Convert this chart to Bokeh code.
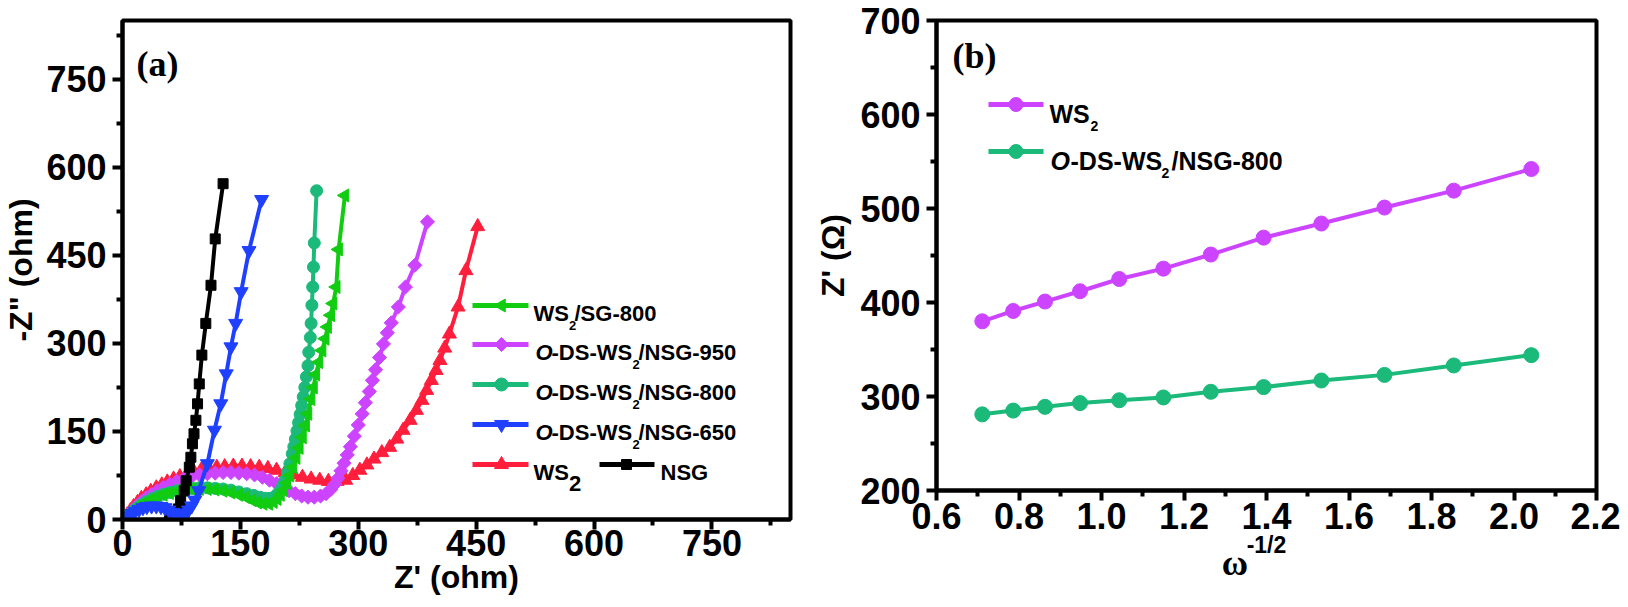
import numpy as np
from bokeh.plotting import figure
from bokeh.layouts import row
from bokeh.models import Range1d, FixedTicker, Label, NumeralTickFormatter, LinearAxis
from bokeh.embed import file_html
from bokeh.resources import INLINE

# ---------------- data : panel (a) Nyquist plots ----------------
nsg_x = [60, 64, 68, 71, 74, 78.6, 81, 85, 87, 89, 91, 93.4, 95.5, 97.7, 101, 106, 112.6, 118, 128]
nsg_y = [2, 4, 9, 18, 32, 49, 66, 89, 106, 129, 146, 169, 197, 231, 280, 334, 399, 478, 572]

n650_x = [4, 8, 12, 16, 21, 26, 31, 37, 43, 49, 54, 59, 64, 68, 72, 76, 80, 84, 88, 92, 97, 108, 117, 125, 132, 138, 144, 151, 161, 177]
n650_y = [2, 6, 10, 14, 17, 20, 22, 23, 23, 22, 20, 16, 12, 8, 7, 8, 11, 16, 23, 33, 49, 95, 152, 197, 248, 294, 334, 388, 458, 545]

n800_x = [4, 8, 13, 18, 24, 30, 37, 44, 52, 60, 69, 78, 88, 98, 108, 118, 128, 138, 148, 158, 167, 175, 182, 188, 193, 197, 201, 204, 207, 210,
          213, 216, 218, 220, 222, 224, 226, 228, 230, 232, 234, 236, 237, 239, 240, 241, 242, 243, 244, 247]
n800_y = [3, 8, 14, 19, 25, 30, 35, 39, 43, 46, 49, 51, 53, 54, 54, 53, 52, 50, 47, 44, 41, 38, 36, 36, 38, 43, 50, 58, 67, 80,
          95, 112, 124, 137, 151, 165, 179, 194, 209, 225, 243, 262, 285, 310, 334, 365, 396, 430, 471, 560]

n950_x = [4, 8, 13, 18, 24, 30, 37, 44, 52, 60, 69, 78, 88, 98, 108, 118, 128, 138, 148, 158, 168, 178, 187, 196, 204, 212, 220, 228, 236, 244,
          252, 259, 265, 270, 274, 278, 282, 286, 290, 295, 300, 305, 309, 314, 318, 322, 327, 332, 337, 342, 351, 360, 372, 388]
n950_y = [3, 9, 16, 23, 30, 37, 43, 49, 55, 60, 65, 69, 73, 76, 78, 79, 80, 80, 79, 78, 76, 72, 67, 61, 55, 49, 44, 40, 38, 38,
          40, 44, 51, 60, 70, 83, 96, 110, 124, 142, 161, 180, 199, 218, 237, 255, 276, 299, 318, 335, 362, 396, 433, 507]

sg800_x = [4, 8, 13, 18, 24, 30, 37, 44, 52, 60, 69, 78, 88, 98, 108, 118, 128, 138, 148, 157, 165, 172, 179, 186, 192, 197, 201, 205, 209,
           213, 217, 221, 225, 229, 233, 236, 240, 243, 246, 250, 254, 258, 261, 265, 268, 272, 275, 283]
sg800_y = [4, 9, 15, 20, 25, 30, 34, 38, 42, 45, 48, 50, 52, 52, 52, 51, 49, 46, 42, 38, 33, 29, 27, 27, 30, 35, 42, 50, 62,
           75, 89, 105, 122, 140, 160, 180, 205, 225, 247, 268, 288, 308, 328, 348, 368, 396, 460, 552]

ws2_x = [3, 6, 10, 14, 19, 24, 30, 36, 43, 50, 57, 65, 73, 82, 91, 100, 110, 120, 130, 141, 152, 163, 174, 185, 196, 207, 218, 229, 240, 251,
         262, 273, 284, 293, 302, 311, 320, 330, 340, 349, 357, 366, 374, 381, 387, 393, 399, 404, 410, 416, 427, 437, 452]
ws2_y = [2, 8, 15, 22, 29, 36, 42, 48, 54, 59, 64, 69, 73, 77, 81, 84, 87, 89, 90, 91, 91, 90, 89, 87, 84, 80, 76, 72, 69, 67,
         65, 65, 67, 75, 84, 93, 103, 114, 123, 137, 152, 169, 186, 203, 220, 237, 254, 271, 292, 316, 362, 424, 499]

a_ticks = [0, 150, 300, 450, 600, 750]
a_minor = [75, 225, 375, 525, 675, 825]

# ---------------- data : panel (b) ----------------
b_x = [0.711, 0.786, 0.863, 0.948, 1.043, 1.150, 1.265, 1.393, 1.533, 1.686, 1.854, 2.042]
b_ws2 = [380, 391, 401, 412, 425, 436, 451, 469, 484, 501, 519, 542]
b_ods800 = [281, 285, 289, 293, 296, 299, 305, 310, 317, 323, 333, 344]

b_xticks = [0.6, 0.8, 1.0, 1.2, 1.4, 1.6, 1.8, 2.0, 2.2]
b_xminor = [0.7, 0.9, 1.1, 1.3, 1.5, 1.7, 1.9, 2.1]
b_yticks = [200, 300, 400, 500, 600, 700]
b_yminor = [250, 350, 450, 550, 650]

# ---------------- styling ----------------
SANS = "Liberation Sans"
SERIF = "Liberation Serif"
RED = "#FF1E3C"
PINK = "#CC44FF"
TEAL = "#1BB97A"
GREEN = "#11CC11"
BLUE = "#2040FF"
BLACK = "#000000"
TICK_FS = "36px"

# frame geometry (page pixels) used only for placing decorations
A_L, A_T, A_W, A_H = 126, 17, 668, 499
B_L, B_T, B_W, B_H = 940, 28, 660, 470
AX0, AX1, AY0, AY1 = 0, 850, 0, 850
BX0, BX1, BY0, BY1 = 0.6, 2.2, 200, 700
A_RIGHT = 12
PAGE_H = 607
M = 8   # both figures cover the page margin vertically (negative top/bottom margins)


def ax_(px):
    return AX0 + (px - A_L) * (AX1 - AX0) / A_W


def ay_(py):
    return AY0 + (A_T + A_H - py) * (AY1 - AY0) / A_H


def bx_(px):
    return BX0 + (px - B_L) * (BX1 - BX0) / B_W


def by_(py):
    return BY0 + (B_T + B_H - py) * (BY1 - BY0) / B_H


def style_axes(p):
    p.grid.visible = False
    p.outline_line_color = "black"
    p.outline_line_width = 4
    p.outline_line_alpha = 1
    p.background_fill_color = "white"
    p.border_fill_color = "white"
    for ax in (p.xaxis[0], p.yaxis[0]):
        ax.axis_line_width = 4
        ax.axis_line_color = "black"
        ax.major_tick_line_width = 4
        ax.minor_tick_line_width = 4
        ax.major_tick_in = 0
        ax.major_tick_out = 10
        ax.minor_tick_in = 0
        ax.minor_tick_out = 6
        ax.major_label_text_font = SANS
        ax.major_label_text_font_style = "bold"
        ax.major_label_text_font_size = TICK_FS
        ax.major_label_text_color = "black"
        ax.axis_label_text_font = SANS
        ax.axis_label_text_font_style = "bold"
        ax.axis_label_text_font_size = "32px"
        ax.axis_label_text_color = "black"


def lab(p, x, y, text, font=SANS, size=22, style="bold"):
    p.add_layout(Label(x=x, y=y, text=text, text_font=font, text_font_size=f"{size}px",
                       text_font_style=style, text_align="left", text_baseline="alphabetic",
                       text_color="black"))


def series(p, x, y, color, marker, size, angle=0.0, lw=4):
    p.line(x, y, line_color=color, line_width=lw)
    p.scatter(x, y, marker=marker, size=size, angle=angle, fill_color=color, line_color=color)


# ---------------- panel (a) ----------------
pa = figure(frame_width=A_W, frame_height=A_H, x_range=Range1d(AX0, AX1), y_range=Range1d(AY0, AY1),
            min_border_left=A_L - M, min_border_right=A_RIGHT, min_border_top=A_T,
            min_border_bottom=PAGE_H - A_T - A_H, margin=(-M, 0, -M, 0),
            output_backend="svg", toolbar_location=None)
style_axes(pa)
pa.xaxis.ticker = FixedTicker(ticks=a_ticks, minor_ticks=a_minor)
pa.yaxis.ticker = FixedTicker(ticks=a_ticks, minor_ticks=a_minor)
pa.xaxis.axis_label = "Z' (ohm)"
pa.yaxis.axis_label = '-Z" (ohm)'
pa.xaxis.major_label_standoff = 0
pa.yaxis.major_label_standoff = 6
pa.xaxis.axis_label_standoff = 0
pa.yaxis.axis_label_standoff = 4

series(pa, ws2_x, ws2_y, RED, "triangle", 14)
series(pa, n950_x, n950_y, PINK, "square", 10, angle=np.pi / 4)
series(pa, n800_x, n800_y, TEAL, "circle", 12)
series(pa, sg800_x, sg800_y, GREEN, "triangle", 13, angle=np.pi / 2)
series(pa, nsg_x, nsg_y, BLACK, "square", 10)
series(pa, n650_x, n650_y, BLUE, "inverted_triangle", 14)

lab(pa, ax_(140), ay_(60), "(a)", font=SERIF, size=36)

# legend (a)
rows_a = [302, 341, 381, 421, 461]
leg_a = [(GREEN, "triangle", 13, np.pi / 2), (PINK, "square", 10, np.pi / 4), (TEAL, "circle", 13, 0.0),
         (BLUE, "inverted_triangle", 14, 0.0), (RED, "triangle", 14, 0.0)]
for r, (c, m, s, ang) in zip(rows_a, leg_a):
    pa.line([ax_(476), ax_(532)], [ay_(r), ay_(r)], line_color=c, line_width=5)
    pa.scatter([ax_(505)], [ay_(r)], marker=m, size=s, angle=ang, fill_color=c, line_color=c)
pa.line([ax_(603), ax_(658)], [ay_(461), ay_(461)], line_color=BLACK, line_width=5)
pa.scatter([ax_(630)], [ay_(461)], marker="square", size=10, fill_color=BLACK, line_color=BLACK)

T = 537
r = rows_a[0]
lab(pa, ax_(T), ay_(r + 8), "WS")
lab(pa, ax_(T + 35.5), ay_(r + 20), "2", size=13)
lab(pa, ax_(T + 41), ay_(r + 8), "/SG-800")
for r, tail in zip(rows_a[1:4], ["/NSG-950", "/NSG-800", "/NSG-650"]):
    lab(pa, ax_(T + 2), ay_(r + 8), "O", style="bold italic")
    lab(pa, ax_(T + 18), ay_(r + 8), "-DS-WS")
    lab(pa, ax_(T + 99), ay_(r + 20), "2", size=13)
    lab(pa, ax_(T + 105), ay_(r + 8), tail)
r = rows_a[4]
lab(pa, ax_(T), ay_(r + 8), "WS")
lab(pa, ax_(T + 35.5), ay_(r + 19), "2")
lab(pa, ax_(664), ay_(r + 8), "NSG")

# ---------------- panel (b) ----------------
pb = figure(frame_width=B_W, frame_height=B_H, x_range=Range1d(BX0, BX1), y_range=Range1d(BY0, BY1),
            min_border_left=B_L - (A_L + A_W + A_RIGHT), min_border_right=24,
            min_border_top=B_T, min_border_bottom=PAGE_H - B_T - B_H, margin=(-M, 0, -M, 0),
            output_backend="svg", toolbar_location=None)
style_axes(pb)
pb.xaxis.ticker = FixedTicker(ticks=b_xticks, minor_ticks=b_xminor)
pb.yaxis.ticker = FixedTicker(ticks=b_yticks, minor_ticks=b_yminor)
pb.xaxis.formatter = NumeralTickFormatter(format="0.0")
pb.yaxis.axis_label = "Z' (Ω)"
pb.xaxis.major_label_standoff = 2
pb.yaxis.major_label_standoff = 6
pb.yaxis.axis_label_standoff = 6
# x title of (b): superscript part on the main axis, omega on a second (bare) axis below it
pb.xaxis.axis_label = "-1/2"
pb.xaxis.axis_label_text_font_size = "23px"
pb.xaxis.axis_label_standoff = 0
omega_axis = LinearAxis(ticker=FixedTicker(ticks=[], minor_ticks=[]), axis_label="ω" + "\u00a0" * 7,
                        axis_label_text_font=SERIF, axis_label_text_font_size="36px",
                        axis_label_text_font_style="bold", axis_label_text_color="black",
                        axis_line_color=None, major_tick_in=0, major_tick_out=0,
                        minor_tick_in=0, minor_tick_out=0, major_label_standoff=0,
                        axis_label_standoff=-18)
pb.add_layout(omega_axis, "below")

series(pb, b_x, b_ws2, PINK, "circle", 15, lw=4)
series(pb, b_x, b_ods800, TEAL, "circle", 15, lw=4)

lab(pb, bx_(956), by_(63), "(b)", font=SERIF, size=36)

rows_b = [112, 159]
for r, c in zip(rows_b, [PINK, TEAL]):
    pb.line([bx_(992), bx_(1047)], [by_(r), by_(r)], line_color=c, line_width=5)
    pb.scatter([bx_(1019.5)], [by_(r)], marker="circle", size=14, fill_color=c, line_color=c)
TB = 1053
lab(pb, bx_(TB), by_(rows_b[0] + 9), "WS", size=25)
lab(pb, bx_(TB + 41), by_(rows_b[0] + 21), "2", size=14)
lab(pb, bx_(TB + 1), by_(rows_b[1] + 9), "O", size=25, style="bold italic")
lab(pb, bx_(TB + 21), by_(rows_b[1] + 9), "-DS-WS", size=25)
lab(pb, bx_(TB + 112), by_(rows_b[1] + 21), "2", size=14)
lab(pb, bx_(TB + 122), by_(rows_b[1] + 9), "/NSG-800", size=25)

layout = row(pa, pb)
open("out.html", "w").write(file_html(layout, INLINE))
